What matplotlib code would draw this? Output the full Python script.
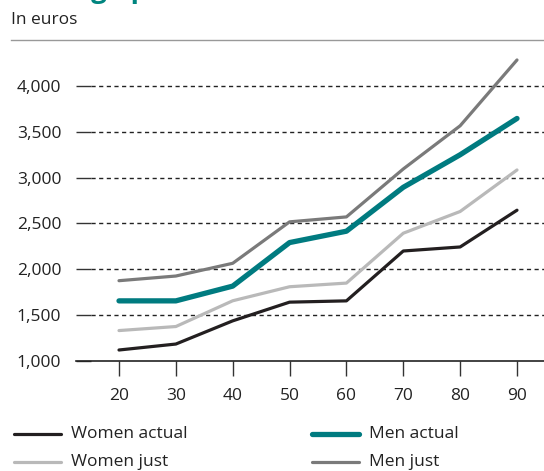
import matplotlib
matplotlib.use("Agg")
import matplotlib.pyplot as plt
from matplotlib.lines import Line2D

plt.rcParams['font.family'] = ['Open Sans', 'DejaVu Sans']

ages = [20, 30, 40, 50, 60, 70, 80, 90]
women_actual = [1120, 1185, 1438, 1642, 1656, 2200, 2244, 2645]
women_just = [1332, 1376, 1657, 1810, 1850, 2394, 2631, 3084]
men_actual = [1656, 1656, 1817, 2292, 2416, 2895, 3250, 3646]
men_just = [1876, 1927, 2066, 2518, 2572, 3095, 3566, 4284]

series = [
    ("Women actual", women_actual, "#231F20", 2.3),
    ("Women just", women_just, "#B9B9B9", 2.3),
    ("Men actual", men_actual, "#007B80", 3.8),
    ("Men just", men_just, "#7A7A7A", 2.3),
]

W, H = 544, 471
fig = plt.figure(figsize=(W / 100, H / 100), dpi=100)

def fx(x):
    return x / W

def fy(y):
    return 1 - y / H

ax = fig.add_axes([fx(76), fy(361), 1 - fx(76), fy(50) - fy(361)])

# dashed grid lines, starting after the short solid tick
for v in [1500, 2000, 2500, 3000, 3500, 4000]:
    ax.axhline(v, xmin=15 / 468, xmax=1, color="#222222", lw=1.0,
               ls=(0, (3, 2.5)), zorder=1)

lines = {}
for name, vals, col, lw in series:
    ln, = ax.plot(ages, vals, color=col, lw=lw, solid_capstyle="round",
                  solid_joinstyle="round", zorder=3)
    lines[name] = ln

ax.set_xlim(20 - 43 / 5.686, 90 + 27 / 5.686)
ax.set_ylim(1000, 4000 + 36 / 0.091667)
ax.set_xticks(ages)
ax.set_yticks([1000, 1500, 2000, 2500, 3000, 3500, 4000])
ax.set_yticklabels([f"{v:,}" for v in [1000, 1500, 2000, 2500, 3000, 3500, 4000]])

for s in ["top", "right", "left"]:
    ax.spines[s].set_visible(False)
ax.spines["bottom"].set_color("#222222")
ax.spines["bottom"].set_linewidth(1.2)

ax.tick_params(axis="y", direction="in", length=10.8, width=1.0, color="#333333",
               pad=10.5, labelsize=12.5, labelcolor="#222222")
ax.tick_params(axis="x", direction="out", length=10.8, width=1.0, color="#333333",
               pad=8.5, labelsize=12.5, labelcolor="#222222")

# header (title is cut off at the top edge, as in the original)
fig.text(fx(11), fy(-3), "Average pension", fontsize=20, fontweight="bold",
         color="#00857F", ha="left", va="baseline")
fig.text(fx(11), fy(20), "In euros", fontsize=12.5, color="#222222",
         ha="left", va="center")
fig.add_artist(Line2D([fx(11), 1], [fy(39.5), fy(39.5)], color="#999999", lw=1.0))

# legend
legend_pos = {
    "Women actual": (14, 434),
    "Men actual": (312, 434),
    "Women just": (14, 462),
    "Men just": (312, 462),
}
for name, (x0, y0) in legend_pos.items():
    ln = lines[name]
    fig.add_artist(Line2D([fx(x0), fx(x0 + 47)], [fy(y0), fy(y0)],
                          color=ln.get_color(), lw=ln.get_linewidth(),
                          solid_capstyle="round"))
    fig.text(fx(x0 + 57), fy(y0), name, fontsize=12.5, color="#222222",
             ha="left", va="center")

fig.savefig("out.png", dpi=100)
